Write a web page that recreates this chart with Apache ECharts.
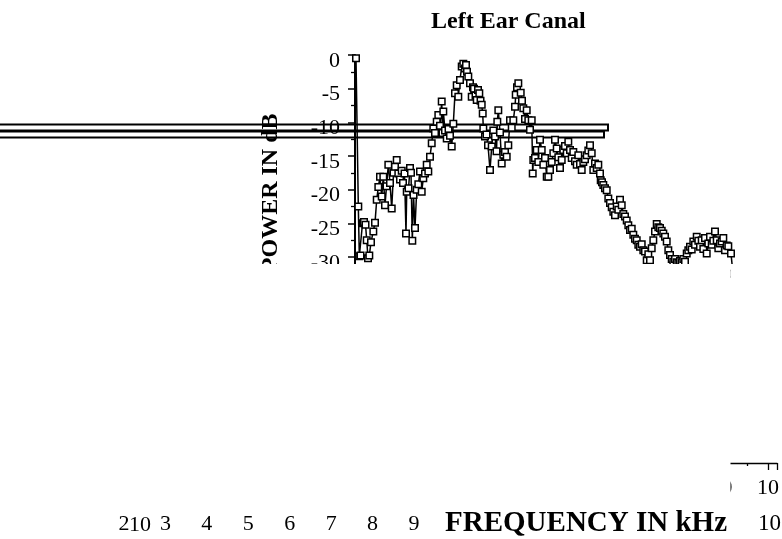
<!DOCTYPE html>
<html>
<head>
<meta charset="utf-8">
<script src="https://cdn.jsdelivr.net/npm/echarts@6/dist/echarts.min.js"></script>
<style>
html,body{margin:0;padding:0;background:#fff;}
#chart{width:782px;height:539px;}
</style>
</head>
<body>
<div id="chart"></div>
<script>
// Frequency (kHz) of each measured point
const freq = [0.025,0.083,0.108,0.138,0.188,0.225,0.263,0.293,0.325,0.358,0.4,0.458,0.5,0.543,0.583,0.625,0.668,0.708,0.75,0.788,0.833,0.875,0.918,0.963,1.0,1.043,1.083,1.125,1.168,1.2,1.238,1.275,1.293,1.338,1.375,1.4,1.433,1.463,1.5,1.543,1.583,1.625,1.668,1.708,1.75,1.793,1.833,1.875,1.918,1.958,2.0,2.043,2.083,2.125,2.168,2.188,2.208,2.25,2.293,2.338,2.375,2.418,2.458,2.5,2.543,2.583,2.625,2.668,2.708,2.75,2.775,2.8,2.833,2.875,2.918,2.95,2.975,3.013,3.043,3.075,3.108,3.138,3.168,3.193,3.208,3.25,3.288,3.325,3.375,3.418,3.458,3.5,3.538,3.558,3.583,3.625,3.668,3.708,3.75,3.793,3.833,3.875,3.918,3.958,4.0,4.018,4.05,4.083,4.143,4.175,4.208,4.25,4.293,4.333,4.375,4.418,4.443,4.458,4.5,4.543,4.583,4.625,4.668,4.708,4.75,4.793,4.833,4.875,4.918,4.958,5.0,5.043,5.083,5.125,5.168,5.208,5.25,5.293,5.333,5.375,5.418,5.458,5.5,5.543,5.583,5.625,5.668,5.708,5.75,5.793,5.833,5.875,5.918,5.958,6.0,6.043,6.083,6.125,6.143,6.175,6.208,6.25,6.293,6.333,6.375,6.418,6.458,6.5,6.543,6.583,6.625,6.668,6.708,6.75,6.793,6.833,6.875,6.918,6.958,7.0,7.043,7.083,7.125,7.168,7.208,7.25,7.293,7.333,7.375,7.418,7.458,7.5,7.543,7.583,7.625,7.668,7.708,7.75,7.793,7.833,7.875,7.918,7.958,8.0,8.043,8.083,8.125,8.168,8.208,8.25,8.293,8.333,8.375,8.418,8.458,8.5,8.543,8.583,8.625,8.668,8.708,8.75,8.793,8.833,8.875,8.918,8.958,9.0,9.043,9.083,9.125,9.168,9.208,9.25,9.293,9.333,9.4,9.45];
// Power in dB
const power = [-0.5,-22.5,-29.9,-29.8,-25,-24.8,-25.2,-27.5,-30.2,-29.8,-27.8,-26.2,-24.9,-21.5,-19.6,-18.1,-21,-18.1,-22.3,-19.5,-16.3,-19,-22.8,-17.5,-16.6,-15.6,-17.6,-18.5,-17.2,-19,-17.6,-26.5,-20.3,-19.8,-16.8,-17.5,-27.6,-20.8,-25.7,-20,-19.2,-17.3,-20.3,-18.3,-17.6,-16.3,-17.3,-15.1,-13.1,-10.9,-11.6,-9.9,-8.9,-10.5,-6.9,-11.6,-8.4,-11.2,-12.4,-11,-12,-13.6,-10.2,-5.7,-4.5,-6.2,-3.7,-1.7,-1.3,-2,-1.5,-2.5,-3.2,-4.2,-6.2,-4.8,-5,-6,-6.7,-5.2,-5.7,-6.8,-7.4,-8.7,-10.9,-12.1,-11.8,-13.4,-17.1,-13.6,-11.2,-12.1,-14.3,-9.9,-8.2,-11.5,-16.1,-14.8,-14.4,-15.1,-13.4,-9.7,-10.8,-9.7,-7.7,-5.9,-4.8,-4.2,-5.6,-6.8,-7.9,-9.5,-8.2,-9.7,-11.1,-9.7,-17.6,-15.6,-15.3,-14.1,-15.9,-12.6,-14.1,-16.3,-15.3,-18.1,-18.1,-17.1,-15.9,-14.6,-12.6,-13.9,-15.2,-16.8,-15.6,-14.1,-13.5,-14.6,-12.9,-14.1,-15.3,-14.4,-15.8,-16.3,-14.9,-16.2,-17.1,-15.9,-15.5,-14.9,-14.2,-13.4,-14.6,-17.1,-16.1,-16.8,-16.3,-17.6,-18.6,-18.9,-19.3,-19.8,-20.1,-21.3,-22,-22.6,-23.3,-23.8,-22.5,-23,-21.5,-22.3,-23.6,-24,-24.6,-25.3,-26,-25.8,-26.7,-27.3,-27.5,-28.2,-28.5,-28.1,-29,-29.2,-30.5,-29.6,-30.5,-28.7,-27.5,-26.2,-25.1,-25.6,-25.7,-26.1,-26.5,-27,-27.7,-29,-29.7,-30.3,-30.7,-30.3,-30.8,-30.9,-30.6,-30.8,-30.3,-30.7,-29.5,-29,-28.5,-28.9,-27.7,-28.2,-27,-27.6,-28.5,-27.5,-28.8,-27.2,-29.5,-28,-27,-28.2,-27.6,-26.2,-27.5,-28.7,-28,-27.7,-27.2,-29,-28.3,-28.4,-29.5,-32.5];
// Tick values
const yMajorTicks = [0,-5,-10,-15,-20,-25,-30];
const yMinorTicks = [-2.5,-7.5,-12.5,-17.5,-22.5,-27.5];
const bottomTickMin = 2, bottomTickMax = 9;   // labels 2 ... 9
const cornerTickMin = 9, cornerTickMax = 10;  // partly hidden axis, labels 9, 10

const FONT = 'Liberation Serif';
const n = Math.min(freq.length, power.length);
const pts = [];
for (let i = 0; i < n; i++) pts.push([freq[i], power[i]]);

const chart = echarts.init(document.getElementById('chart'), null, {renderer: 'canvas'});
chart.setOption({
  animation: false,
  backgroundColor: '#fff',
  title: {
    text: 'Left Ear Canal',
    left: 426, top: 5,
    textStyle: {fontFamily: FONT, fontWeight: 'bold', fontSize: 24, color: '#000'}
  },
  grid: [
    {left: 355, top: 55, width: 380, height: 208.7},
    {left: 727, right: 0, bottom: 76, height: 10},
    {left: 124, width: 294, bottom: 15, height: 10}
  ],
  xAxis: [
    {gridIndex: 0, type: 'value', min: 0, max: 9.5, show: false},
    {gridIndex: 1, type: 'value', min: cornerTickMin, max: cornerTickMax + 0.222, interval: 1,
      axisLine: {show: true, onZero: false, lineStyle: {color: '#000', width: 1.3}},
      axisTick: {show: true, length: 7, lineStyle: {color: '#000', width: 1.3}},
      minorTick: {show: true, splitNumber: 2, length: 3, lineStyle: {color: '#000', width: 1.3}},
      splitLine: {show: false},
      axisLabel: {show: true, margin: 14, fontFamily: FONT, fontSize: 22, color: '#000', showMaxLabel: false}
    },
    {gridIndex: 2, type: 'value', min: bottomTickMin, max: bottomTickMax, interval: 1,
      axisLine: {show: false}, axisTick: {show: false}, splitLine: {show: false},
      axisLabel: {show: true, margin: 0, verticalAlign: 'middle', fontFamily: FONT, fontSize: 22, color: '#000'},
      name: '{b|FREQUENCY IN kHz}{n|10}',
      nameLocation: 'end',
      nameGap: 31,
      nameTextStyle: {
        verticalAlign: 'middle', align: 'left',
        rich: {
          b: {fontFamily: FONT, fontWeight: 'bold', fontSize: 29, color: '#000'},
          n: {fontFamily: FONT, fontSize: 23, color: '#000', padding: [0, 0, 0, 31]}
        }
      }
    }
  ],
  yAxis: [
    {gridIndex: 0, type: 'value', min: -31, max: 0, position: 'left',
      axisLine: {show: true, lineStyle: {color: '#000', width: 2}},
      axisTick: {show: true, length: 7, customValues: yMajorTicks, lineStyle: {color: '#000', width: 1.5}},
      axisLabel: {show: true, customValues: yMajorTicks, margin: 15, verticalAlign: 'top', lineHeight: 12,
        fontFamily: FONT, fontSize: 22, color: '#000'},
      splitLine: {show: false},
      name: 'POWER IN dB', nameLocation: 'middle', nameRotate: 90, nameGap: 72,
      nameTextStyle: {fontFamily: FONT, fontWeight: 'bold', fontSize: 24, color: '#000', padding: [0, 67, 0, 0]}
    },
    {gridIndex: 0, type: 'value', min: -31, max: 0, position: 'left',
      axisLine: {show: false},
      axisTick: {show: true, length: 4, customValues: yMinorTicks, lineStyle: {color: '#000', width: 1.3}},
      axisLabel: {show: false}, splitLine: {show: false}
    },
    {gridIndex: 1, type: 'value', show: false},
    {gridIndex: 2, type: 'value', show: false}
  ],
  series: [{
    type: 'line',
    xAxisIndex: 0, yAxisIndex: 0,
    data: pts,
    clip: false,
    symbol: 'rect',
    symbolSize: 6.5,
    showAllSymbol: true,
    itemStyle: {color: '#fff', borderColor: '#000', borderWidth: 1.5},
    lineStyle: {color: '#000', width: 1.5},
    z: 5
  }],
  graphic: [
    {type: 'rect', z: 1, shape: {x: -5, y: 124.5, width: 613, height: 6},
      style: {fill: 'none', stroke: '#000', lineWidth: 2}},
    {type: 'rect', z: 1, shape: {x: -5, y: 131.5, width: 609, height: 6},
      style: {fill: 'none', stroke: '#000', lineWidth: 2}},
    {type: 'rect', z: 100, shape: {x: 0, y: 264, width: 730.5, height: 242},
      style: {fill: '#fff'}},
    {type: 'rect', z: 100, shape: {x: 730.5, y: 264, width: 52, height: 191},
      style: {fill: '#fff'}},
    {type: 'text', z: 10, left: 129, top: 514,
      style: {text: '10', fontFamily: FONT, fontSize: 22, fill: '#000'}}
  ]
});
</script>
</body>
</html>
